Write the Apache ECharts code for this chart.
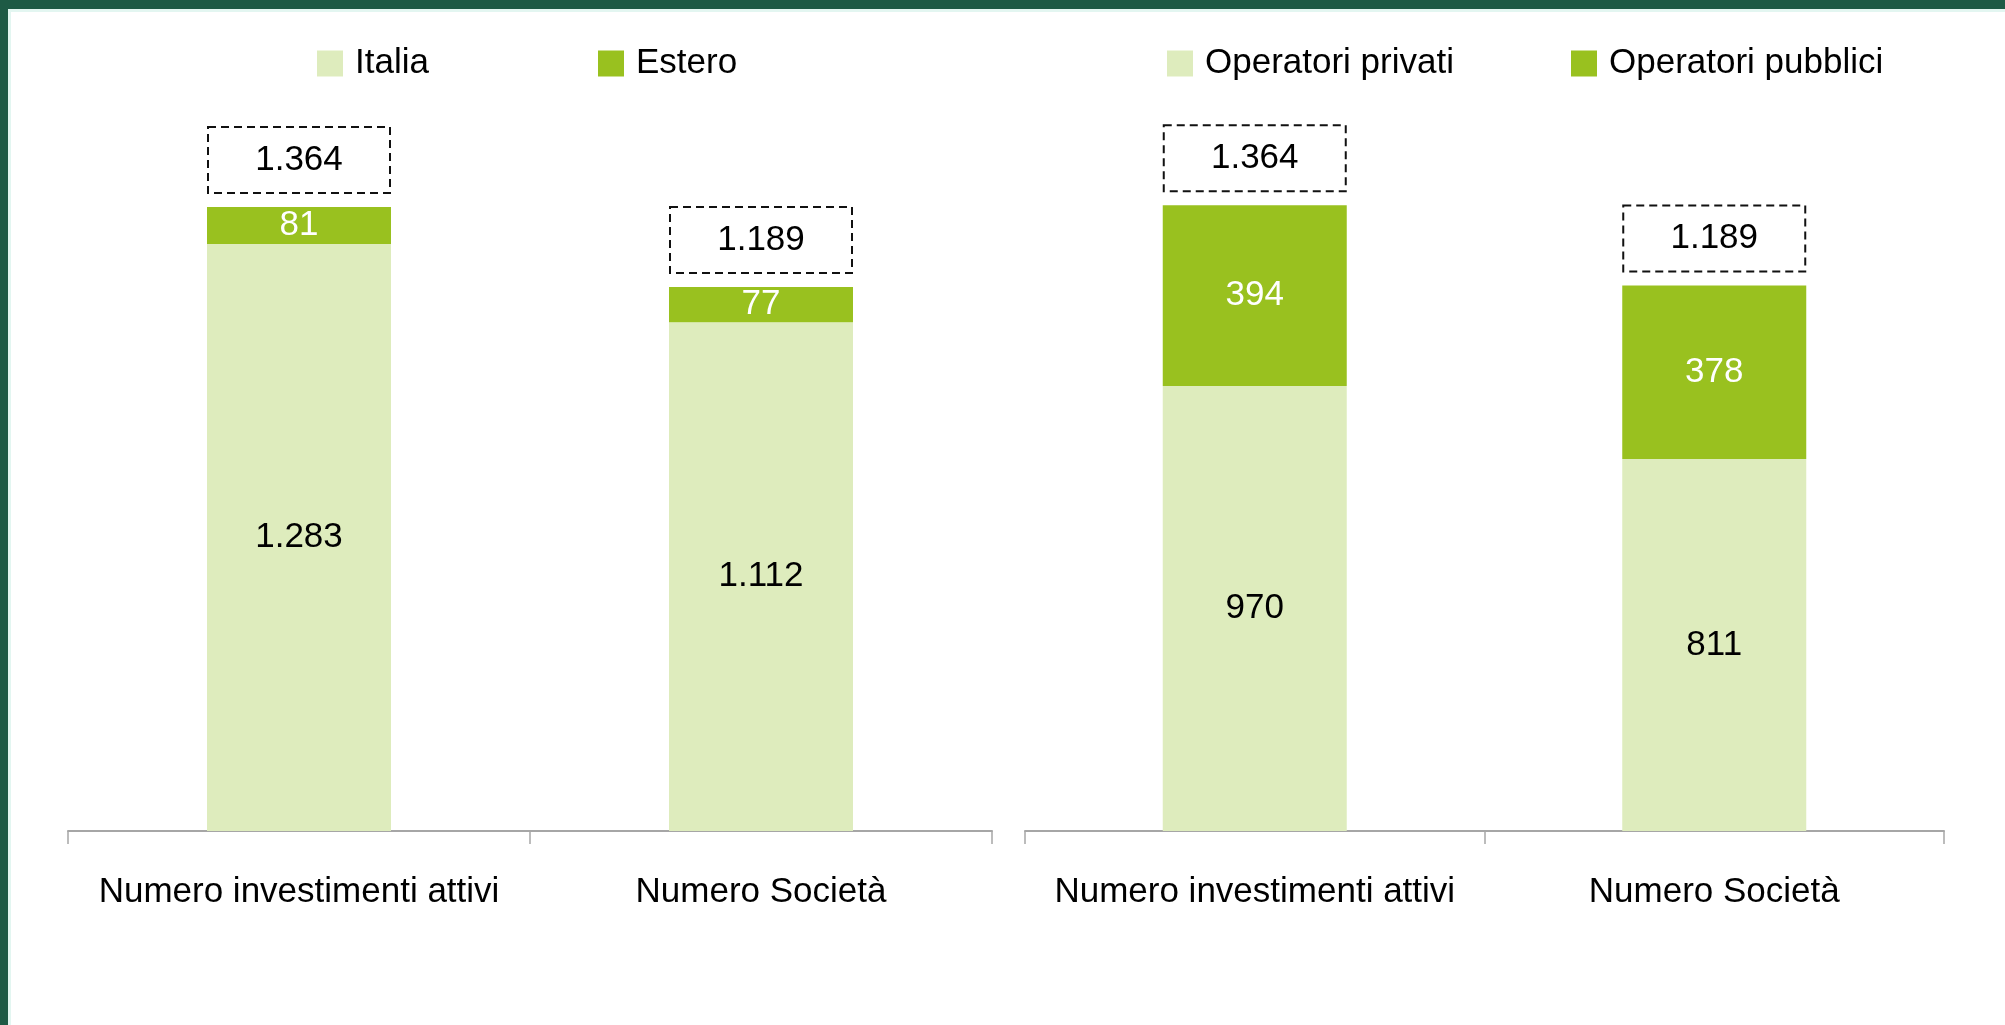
<!DOCTYPE html>
<html>
<head>
<meta charset="utf-8">
<script src="https://cdn.jsdelivr.net/npm/echarts@6/dist/echarts.min.js"></script>
<style>
  html, body { margin: 0; padding: 0; background: #ffffff; }
  #chart { width: 2005px; height: 1025px; }
</style>
</head>
<body>
<div id="chart"></div>
<script>
// ---- Data ----
const categories = ['Numero investimenti attivi', 'Numero Società'];
const italia = [1283, 1112];
const estero = [81, 77];
const totalsLeft = [1364, 1189];
const privati = [970, 811];
const pubblici = [394, 378];
const totalsRight = [1364, 1189];
const legendLeft = ['Italia', 'Estero'];
const legendRight = ['Operatori privati', 'Operatori pubblici'];

const LIGHT = '#deecbd';
const DARK = '#99c11f';
const FONT = '"Liberation Sans", Arial, sans-serif';

function fmt(v) {
  return String(v).replace(/\B(?=(\d{3})+(?!\d))/g, '.');
}

const chart = echarts.init(document.getElementById('chart'));

function legendItem(name, left) {
  return {
    data: [name],
    left: left,
    top: 46,
    padding: 0,
    itemWidth: 26,
    itemHeight: 26,
    icon: 'rect',
    selectedMode: false,
    textStyle: { fontFamily: FONT, fontSize: 35, color: '#000', padding: [0, 0, 0, 7] }
  };
}

function xAxisDef(gridIndex) {
  return {
    type: 'category',
    gridIndex: gridIndex,
    data: categories,
    axisLine: { show: true, lineStyle: { color: '#a6a6a6', width: 2 } },
    axisTick: { show: true, interval: 0, length: 13, lineStyle: { color: '#a6a6a6', width: 1.5 } },
    axisLabel: { interval: 0, fontFamily: FONT, fontSize: 35, color: '#000', margin: 44, hideOverlap: false }
  };
}

function yAxisDef(gridIndex) {
  return {
    type: 'value',
    gridIndex: gridIndex,
    min: 0,
    max: 1600,
    show: false,
    splitLine: { show: false }
  };
}

function segLabel(color) {
  return {
    show: true,
    position: 'inside',
    fontFamily: FONT,
    fontSize: 35,
    color: color,
    formatter: p => fmt(p.value)
  };
}

function totalSeries(axisIndex, totals) {
  return {
    name: 'Totale',
    type: 'bar',
    xAxisIndex: axisIndex,
    yAxisIndex: axisIndex,
    data: totals,
    barWidth: 184,
    barGap: '-100%',
    silent: true,
    z: 1,
    itemStyle: { color: 'rgba(0,0,0,0)' },
    label: {
      show: true,
      position: 'top',
      distance: 14,
      formatter: p => fmt(p.value),
      fontFamily: FONT,
      fontSize: 35,
      color: '#000',
      width: 182,
      height: 66,
      lineHeight: 66,
      align: 'center',
      borderColor: '#111',
      borderWidth: 2,
      borderType: [8, 5],
      padding: 0
    }
  };
}

const option = {
  backgroundColor: '#ffffff',
  animation: false,
  graphic: [
    { type: 'rect', shape: { x: 0, y: 0, width: 2005, height: 9 }, style: { fill: '#1e5a45' }, z: 100 },
    { type: 'rect', shape: { x: 0, y: 9, width: 2005, height: 3 }, style: { fill: '#e3f6f1' }, z: 100 },
    { type: 'rect', shape: { x: 0, y: 0, width: 8, height: 1025 }, style: { fill: '#1e5a45' }, z: 101 },
    { type: 'rect', shape: { x: 8, y: 9, width: 3, height: 1016 }, style: { fill: '#e3f6f1' }, z: 100 }
  ],
  legend: [
    legendItem(legendLeft[0], 317),
    legendItem(legendLeft[1], 598),
    legendItem(legendRight[0], 1167),
    legendItem(legendRight[1], 1571)
  ],
  grid: [
    { left: 68, right: 1013, top: 99, bottom: 194, containLabel: false },
    { left: 1025, right: 61, top: 97, bottom: 194, containLabel: false }
  ],
  xAxis: [xAxisDef(0), xAxisDef(1)],
  yAxis: [yAxisDef(0), yAxisDef(1)],
  series: [
    {
      name: legendLeft[0], type: 'bar', stack: 'L', xAxisIndex: 0, yAxisIndex: 0,
      data: italia, barWidth: 184, itemStyle: { color: LIGHT }, label: segLabel('#000'), z: 2
    },
    {
      name: legendLeft[1], type: 'bar', stack: 'L', xAxisIndex: 0, yAxisIndex: 0,
      data: estero, barWidth: 184, itemStyle: { color: DARK }, label: segLabel('#ffffff'), z: 2
    },
    totalSeries(0, totalsLeft),
    {
      name: legendRight[0], type: 'bar', stack: 'R', xAxisIndex: 1, yAxisIndex: 1,
      data: privati, barWidth: 184, itemStyle: { color: LIGHT }, label: segLabel('#000'), z: 2
    },
    {
      name: legendRight[1], type: 'bar', stack: 'R', xAxisIndex: 1, yAxisIndex: 1,
      data: pubblici, barWidth: 184, itemStyle: { color: DARK }, label: segLabel('#ffffff'), z: 2
    },
    totalSeries(1, totalsRight)
  ]
};

chart.setOption(option);
</script>
</body>
</html>
